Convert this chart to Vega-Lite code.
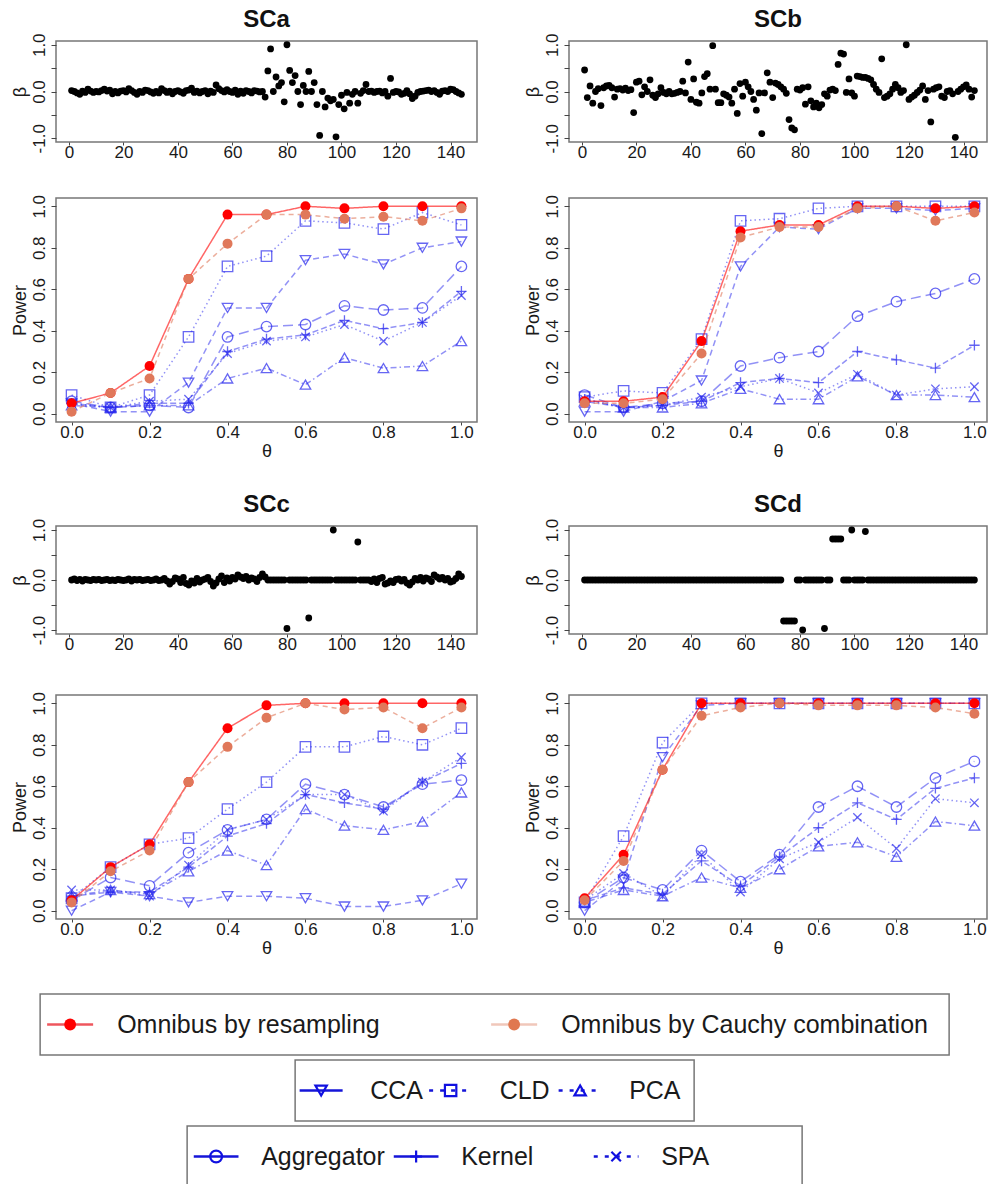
{
"$schema":"https://vega.github.io/schema/vega-lite/v6.json",
"padding":{"left":7,"top":7,"right":0,"bottom":0},
"background":"white",
"config":{
"view":{"stroke":"#777777","strokeWidth":1.5},
"axis":{"domain":false,"grid":false,"tickColor":"#444444","labelFont":"Liberation Sans","titleFont":"Liberation Sans","labelFontSize":17,"titleFontSize":18,"titleFontWeight":"normal","labelColor":"#1a1a1a","titleColor":"#1a1a1a","labelFlush":false,"labelOverlap":false},
"axisX":{"tickSize":3,"labelPadding":-1,"titlePadding":2},
"axisY":{"tickSize":5,"labelPadding":3,"titlePadding":1,"labelAngle":-90},
"title":{"fontSize":24,"fontWeight":"bold","font":"Liberation Sans","anchor":"middle","frame":"group","offset":1,"color":"#111111"},
"text":{"font":"Liberation Sans"}
},
"datasets":{
"betaA":[{"i":1,"beta":0.02},{"i":2,"beta":0},{"i":3,"beta":-0.03},{"i":4,"beta":-0.06},{"i":5,"beta":0.01},{"i":6,"beta":-0.02},{"i":7,"beta":0.05},{"i":8,"beta":0.01},{"i":9,"beta":-0.02},{"i":10,"beta":0},{"i":11,"beta":-0.01},{"i":12,"beta":0.02},{"i":13,"beta":0.05},{"i":14,"beta":0.01},{"i":15,"beta":0.03},{"i":16,"beta":-0.05},{"i":17,"beta":0},{"i":18,"beta":-0.03},{"i":19,"beta":0.01},{"i":20,"beta":0.02},{"i":21,"beta":-0.01},{"i":22,"beta":0.06},{"i":23,"beta":0.02},{"i":24,"beta":-0.02},{"i":25,"beta":-0.06},{"i":26,"beta":0},{"i":27,"beta":-0.02},{"i":28,"beta":0.03},{"i":29,"beta":0.02},{"i":30,"beta":-0.01},{"i":31,"beta":-0.04},{"i":32,"beta":0},{"i":33,"beta":-0.03},{"i":34,"beta":0.06},{"i":35,"beta":0.02},{"i":36,"beta":-0.02},{"i":37,"beta":0.01},{"i":38,"beta":-0.05},{"i":39,"beta":0},{"i":40,"beta":0.02},{"i":41,"beta":-0.01},{"i":42,"beta":-0.04},{"i":43,"beta":0.02},{"i":44,"beta":0.03},{"i":45,"beta":0.07},{"i":46,"beta":-0.02},{"i":47,"beta":0.01},{"i":48,"beta":-0.03},{"i":49,"beta":0},{"i":50,"beta":0.02},{"i":51,"beta":-0.05},{"i":52,"beta":0.01},{"i":53,"beta":-0.02},{"i":54,"beta":0.14},{"i":55,"beta":0.06},{"i":56,"beta":0.02},{"i":57,"beta":-0.01},{"i":58,"beta":0.04},{"i":59,"beta":0},{"i":60,"beta":-0.02},{"i":61,"beta":0.03},{"i":62,"beta":-0.06},{"i":63,"beta":0.01},{"i":64,"beta":-0.04},{"i":65,"beta":0.02},{"i":66,"beta":0},{"i":67,"beta":-0.03},{"i":68,"beta":0.02},{"i":69,"beta":0.01},{"i":70,"beta":-0.01},{"i":71,"beta":0},{"i":72,"beta":-0.12},{"i":73,"beta":0.44},{"i":74,"beta":0.91},{"i":75,"beta":0},{"i":76,"beta":0.31},{"i":77,"beta":0.12},{"i":78,"beta":0.19},{"i":79,"beta":-0.22},{"i":80,"beta":1},{"i":81,"beta":0.45},{"i":82,"beta":0.19},{"i":83,"beta":0.34},{"i":84,"beta":0},{"i":85,"beta":-0.28},{"i":86,"beta":0.13},{"i":87,"beta":0},{"i":88,"beta":0.43},{"i":89,"beta":0},{"i":90,"beta":0.19},{"i":91,"beta":-0.28},{"i":92,"beta":-0.94},{"i":93,"beta":0},{"i":94,"beta":-0.33},{"i":95,"beta":-0.14},{"i":96,"beta":-0.2},{"i":97,"beta":-0.17},{"i":98,"beta":-0.97},{"i":99,"beta":-0.28},{"i":100,"beta":-0.08},{"i":101,"beta":-0.37},{"i":102,"beta":-0.02},{"i":103,"beta":-0.25},{"i":104,"beta":-0.06},{"i":105,"beta":0},{"i":106,"beta":-0.25},{"i":107,"beta":-0.04},{"i":108,"beta":0.02},{"i":109,"beta":0.15},{"i":110,"beta":0},{"i":111,"beta":0.01},{"i":112,"beta":-0.02},{"i":113,"beta":0},{"i":114,"beta":0.01},{"i":115,"beta":-0.03},{"i":116,"beta":0},{"i":117,"beta":-0.1},{"i":118,"beta":0.28},{"i":119,"beta":-0.02},{"i":120,"beta":0},{"i":121,"beta":-0.01},{"i":122,"beta":-0.06},{"i":123,"beta":-0.04},{"i":124,"beta":0.02},{"i":125,"beta":-0.05},{"i":126,"beta":-0.15},{"i":127,"beta":-0.1},{"i":128,"beta":-0.02},{"i":129,"beta":0},{"i":130,"beta":0.01},{"i":131,"beta":0.02},{"i":132,"beta":0.03},{"i":133,"beta":0},{"i":134,"beta":0.02},{"i":135,"beta":-0.02},{"i":136,"beta":-0.06},{"i":137,"beta":0.01},{"i":138,"beta":0.02},{"i":139,"beta":0},{"i":140,"beta":0.05},{"i":141,"beta":0.04},{"i":142,"beta":0},{"i":143,"beta":-0.03},{"i":144,"beta":-0.06}],
"betaB":[{"i":1,"beta":0.46},{"i":2,"beta":-0.13},{"i":3,"beta":0.12},{"i":4,"beta":-0.25},{"i":5,"beta":0},{"i":6,"beta":0.06},{"i":7,"beta":-0.3},{"i":8,"beta":0.08},{"i":9,"beta":0.12},{"i":10,"beta":0.13},{"i":11,"beta":0.08},{"i":12,"beta":-0.12},{"i":13,"beta":0.05},{"i":14,"beta":0.06},{"i":15,"beta":0.03},{"i":16,"beta":0.07},{"i":17,"beta":0.02},{"i":18,"beta":0.04},{"i":19,"beta":-0.45},{"i":20,"beta":0.2},{"i":21,"beta":0.22},{"i":22,"beta":-0.07},{"i":23,"beta":0.1},{"i":24,"beta":0},{"i":25,"beta":0.25},{"i":26,"beta":-0.08},{"i":27,"beta":-0.13},{"i":28,"beta":-0.05},{"i":29,"beta":0.08},{"i":30,"beta":-0.02},{"i":31,"beta":-0.05},{"i":32,"beta":0},{"i":33,"beta":-0.05},{"i":34,"beta":-0.04},{"i":35,"beta":-0.02},{"i":36,"beta":0},{"i":37,"beta":0.22},{"i":38,"beta":-0.03},{"i":39,"beta":0.63},{"i":40,"beta":-0.17},{"i":41,"beta":0.27},{"i":42,"beta":-0.23},{"i":43,"beta":-0.25},{"i":44,"beta":-0.03},{"i":45,"beta":0.32},{"i":46,"beta":0.38},{"i":47,"beta":0.05},{"i":48,"beta":0.98},{"i":49,"beta":0.05},{"i":50,"beta":-0.24},{"i":51,"beta":-0.24},{"i":52,"beta":-0.05},{"i":53,"beta":-0.08},{"i":54,"beta":-0.12},{"i":55,"beta":-0.25},{"i":56,"beta":0.05},{"i":57,"beta":-0.47},{"i":58,"beta":0.17},{"i":59,"beta":-0.1},{"i":60,"beta":0.2},{"i":61,"beta":0.1},{"i":62,"beta":0},{"i":63,"beta":-0.17},{"i":64,"beta":-0.4},{"i":65,"beta":-0.03},{"i":66,"beta":-0.9},{"i":67,"beta":-0.03},{"i":68,"beta":0.4},{"i":69,"beta":0.2},{"i":70,"beta":-0.13},{"i":71,"beta":0.18},{"i":72,"beta":0.15},{"i":73,"beta":0.1},{"i":74,"beta":0.05},{"i":75,"beta":-0.04},{"i":76,"beta":-0.6},{"i":77,"beta":-0.78},{"i":78,"beta":-0.82},{"i":79,"beta":0.05},{"i":80,"beta":0.03},{"i":81,"beta":0.08},{"i":82,"beta":-0.27},{"i":83,"beta":0.1},{"i":84,"beta":-0.2},{"i":85,"beta":-0.33},{"i":86,"beta":-0.25},{"i":87,"beta":-0.35},{"i":88,"beta":-0.28},{"i":89,"beta":-0.05},{"i":90,"beta":-0.1},{"i":91,"beta":0.03},{"i":92,"beta":0.05},{"i":93,"beta":0.02},{"i":94,"beta":0.58},{"i":95,"beta":0.82},{"i":96,"beta":0.8},{"i":97,"beta":-0.02},{"i":98,"beta":0.27},{"i":99,"beta":-0.03},{"i":100,"beta":-0.1},{"i":101,"beta":0.33},{"i":102,"beta":0.32},{"i":103,"beta":0.3},{"i":104,"beta":0.3},{"i":105,"beta":0.28},{"i":106,"beta":0.25},{"i":107,"beta":0.15},{"i":108,"beta":0.05},{"i":109,"beta":-0.02},{"i":110,"beta":0.7},{"i":111,"beta":-0.13},{"i":112,"beta":-0.1},{"i":113,"beta":-0.05},{"i":114,"beta":0.05},{"i":115,"beta":0.15},{"i":116,"beta":0.08},{"i":117,"beta":-0.02},{"i":118,"beta":0.02},{"i":119,"beta":1},{"i":120,"beta":-0.17},{"i":121,"beta":-0.12},{"i":122,"beta":-0.08},{"i":123,"beta":-0.02},{"i":124,"beta":0.03},{"i":125,"beta":0.12},{"i":126,"beta":-0.17},{"i":127,"beta":0.02},{"i":128,"beta":-0.65},{"i":129,"beta":0.05},{"i":130,"beta":0.08},{"i":131,"beta":0.1},{"i":132,"beta":-0.1},{"i":133,"beta":-0.13},{"i":134,"beta":0},{"i":135,"beta":0.02},{"i":136,"beta":-0.05},{"i":137,"beta":-0.98},{"i":138,"beta":0},{"i":139,"beta":0.05},{"i":140,"beta":0.1},{"i":141,"beta":0.14},{"i":142,"beta":0.05},{"i":143,"beta":-0.12},{"i":144,"beta":0.02}],
"betaC":[{"i":1,"beta":0},{"i":2,"beta":0.02},{"i":3,"beta":-0.01},{"i":4,"beta":0.01},{"i":5,"beta":-0.02},{"i":6,"beta":0.01},{"i":7,"beta":0},{"i":8,"beta":-0.01},{"i":9,"beta":0.01},{"i":10,"beta":0},{"i":11,"beta":0.01},{"i":12,"beta":-0.01},{"i":13,"beta":0},{"i":14,"beta":0.01},{"i":15,"beta":-0.01},{"i":16,"beta":0},{"i":17,"beta":-0.01},{"i":18,"beta":0.01},{"i":19,"beta":0},{"i":20,"beta":-0.01},{"i":21,"beta":0},{"i":22,"beta":0.02},{"i":23,"beta":-0.02},{"i":24,"beta":0.01},{"i":25,"beta":0},{"i":26,"beta":0.01},{"i":27,"beta":-0.01},{"i":28,"beta":0},{"i":29,"beta":0.01},{"i":30,"beta":-0.01},{"i":31,"beta":0},{"i":32,"beta":0.02},{"i":33,"beta":-0.01},{"i":34,"beta":0},{"i":35,"beta":0.03},{"i":36,"beta":-0.02},{"i":37,"beta":-0.08},{"i":38,"beta":-0.03},{"i":39,"beta":0.04},{"i":40,"beta":0.02},{"i":41,"beta":-0.05},{"i":42,"beta":0.05},{"i":43,"beta":-0.07},{"i":44,"beta":-0.1},{"i":45,"beta":-0.02},{"i":46,"beta":-0.06},{"i":47,"beta":0.03},{"i":48,"beta":-0.04},{"i":49,"beta":0},{"i":50,"beta":0.02},{"i":51,"beta":0.05},{"i":52,"beta":-0.03},{"i":53,"beta":-0.12},{"i":54,"beta":-0.06},{"i":55,"beta":0.02},{"i":56,"beta":0.08},{"i":57,"beta":-0.05},{"i":58,"beta":0.04},{"i":59,"beta":-0.02},{"i":60,"beta":0.05},{"i":61,"beta":0.02},{"i":62,"beta":0.1},{"i":63,"beta":0.06},{"i":64,"beta":0.03},{"i":65,"beta":0.07},{"i":66,"beta":0},{"i":67,"beta":0.04},{"i":68,"beta":0.02},{"i":69,"beta":-0.03},{"i":70,"beta":0.05},{"i":71,"beta":0.12},{"i":72,"beta":0.06},{"i":73,"beta":0},{"i":74,"beta":0},{"i":75,"beta":0},{"i":76,"beta":0},{"i":77,"beta":0},{"i":78,"beta":0},{"i":79,"beta":0},{"i":80,"beta":-0.97},{"i":81,"beta":0},{"i":82,"beta":0},{"i":83,"beta":0},{"i":84,"beta":0},{"i":85,"beta":0},{"i":86,"beta":0},{"i":87,"beta":0},{"i":88,"beta":-0.76},{"i":89,"beta":0},{"i":90,"beta":0},{"i":91,"beta":0},{"i":92,"beta":0},{"i":93,"beta":0},{"i":94,"beta":0},{"i":95,"beta":0},{"i":96,"beta":0},{"i":97,"beta":1},{"i":98,"beta":0},{"i":99,"beta":0},{"i":100,"beta":0},{"i":101,"beta":0},{"i":102,"beta":0},{"i":103,"beta":0},{"i":104,"beta":0},{"i":105,"beta":0},{"i":106,"beta":0.76},{"i":107,"beta":0},{"i":108,"beta":0},{"i":109,"beta":0},{"i":110,"beta":0},{"i":111,"beta":-0.03},{"i":112,"beta":0.02},{"i":113,"beta":-0.05},{"i":114,"beta":0.03},{"i":115,"beta":0.05},{"i":116,"beta":-0.08},{"i":117,"beta":-0.06},{"i":118,"beta":-0.02},{"i":119,"beta":-0.05},{"i":120,"beta":0.01},{"i":121,"beta":0.02},{"i":122,"beta":-0.02},{"i":123,"beta":0.01},{"i":124,"beta":-0.06},{"i":125,"beta":-0.1},{"i":126,"beta":-0.04},{"i":127,"beta":0.03},{"i":128,"beta":0},{"i":129,"beta":0.05},{"i":130,"beta":-0.02},{"i":131,"beta":0.04},{"i":132,"beta":0.02},{"i":133,"beta":-0.03},{"i":134,"beta":0.1},{"i":135,"beta":0.06},{"i":136,"beta":0.02},{"i":137,"beta":0.05},{"i":138,"beta":0},{"i":139,"beta":0.03},{"i":140,"beta":-0.04},{"i":141,"beta":-0.02},{"i":142,"beta":0.03},{"i":143,"beta":0.12},{"i":144,"beta":0.07}],
"betaD":[{"i":1,"beta":0},{"i":2,"beta":0},{"i":3,"beta":0},{"i":4,"beta":0},{"i":5,"beta":0},{"i":6,"beta":0},{"i":7,"beta":0},{"i":8,"beta":0},{"i":9,"beta":0},{"i":10,"beta":0},{"i":11,"beta":0},{"i":12,"beta":0},{"i":13,"beta":0},{"i":14,"beta":0},{"i":15,"beta":0},{"i":16,"beta":0},{"i":17,"beta":0},{"i":18,"beta":0},{"i":19,"beta":0},{"i":20,"beta":0},{"i":21,"beta":0},{"i":22,"beta":0},{"i":23,"beta":0},{"i":24,"beta":0},{"i":25,"beta":0},{"i":26,"beta":0},{"i":27,"beta":0},{"i":28,"beta":0},{"i":29,"beta":0},{"i":30,"beta":0},{"i":31,"beta":0},{"i":32,"beta":0},{"i":33,"beta":0},{"i":34,"beta":0},{"i":35,"beta":0},{"i":36,"beta":0},{"i":37,"beta":0},{"i":38,"beta":0},{"i":39,"beta":0},{"i":40,"beta":0},{"i":41,"beta":0},{"i":42,"beta":0},{"i":43,"beta":0},{"i":44,"beta":0},{"i":45,"beta":0},{"i":46,"beta":0},{"i":47,"beta":0},{"i":48,"beta":0},{"i":49,"beta":0},{"i":50,"beta":0},{"i":51,"beta":0},{"i":52,"beta":0},{"i":53,"beta":0},{"i":54,"beta":0},{"i":55,"beta":0},{"i":56,"beta":0},{"i":57,"beta":0},{"i":58,"beta":0},{"i":59,"beta":0},{"i":60,"beta":0},{"i":61,"beta":0},{"i":62,"beta":0},{"i":63,"beta":0},{"i":64,"beta":0},{"i":65,"beta":0},{"i":66,"beta":0},{"i":67,"beta":0},{"i":68,"beta":0},{"i":69,"beta":0},{"i":70,"beta":0},{"i":71,"beta":0},{"i":72,"beta":0},{"i":73,"beta":0},{"i":74,"beta":-0.82},{"i":75,"beta":-0.82},{"i":76,"beta":-0.82},{"i":77,"beta":-0.82},{"i":78,"beta":-0.82},{"i":79,"beta":0},{"i":80,"beta":0},{"i":81,"beta":-1},{"i":82,"beta":0},{"i":83,"beta":0},{"i":84,"beta":0},{"i":85,"beta":0},{"i":86,"beta":0},{"i":87,"beta":0},{"i":88,"beta":0},{"i":89,"beta":-0.97},{"i":90,"beta":0},{"i":91,"beta":0},{"i":92,"beta":0.82},{"i":93,"beta":0.82},{"i":94,"beta":0.82},{"i":95,"beta":0.82},{"i":96,"beta":0},{"i":97,"beta":0},{"i":98,"beta":0},{"i":99,"beta":1},{"i":100,"beta":0},{"i":101,"beta":0},{"i":102,"beta":0},{"i":103,"beta":0},{"i":104,"beta":0.97},{"i":105,"beta":0},{"i":106,"beta":0},{"i":107,"beta":0},{"i":108,"beta":0},{"i":109,"beta":0},{"i":110,"beta":0},{"i":111,"beta":0},{"i":112,"beta":0},{"i":113,"beta":0},{"i":114,"beta":0},{"i":115,"beta":0},{"i":116,"beta":0},{"i":117,"beta":0},{"i":118,"beta":0},{"i":119,"beta":0},{"i":120,"beta":0},{"i":121,"beta":0},{"i":122,"beta":0},{"i":123,"beta":0},{"i":124,"beta":0},{"i":125,"beta":0},{"i":126,"beta":0},{"i":127,"beta":0},{"i":128,"beta":0},{"i":129,"beta":0},{"i":130,"beta":0},{"i":131,"beta":0},{"i":132,"beta":0},{"i":133,"beta":0},{"i":134,"beta":0},{"i":135,"beta":0},{"i":136,"beta":0},{"i":137,"beta":0},{"i":138,"beta":0},{"i":139,"beta":0},{"i":140,"beta":0},{"i":141,"beta":0},{"i":142,"beta":0},{"i":143,"beta":0},{"i":144,"beta":0}],
"powerA":[
{"method":"Resampling","theta":0,"power":0.05},{"method":"Resampling","theta":0.1,"power":0.1},{"method":"Resampling","theta":0.2,"power":0.23},{"method":"Resampling","theta":0.3,"power":0.65},{"method":"Resampling","theta":0.4,"power":0.96},{"method":"Resampling","theta":0.5,"power":0.96},{"method":"Resampling","theta":0.6,"power":1},{"method":"Resampling","theta":0.7,"power":0.99},{"method":"Resampling","theta":0.8,"power":1},{"method":"Resampling","theta":0.9,"power":1},{"method":"Resampling","theta":1,"power":1},
{"method":"Cauchy","theta":0,"power":0.01},{"method":"Cauchy","theta":0.1,"power":0.1},{"method":"Cauchy","theta":0.2,"power":0.17},{"method":"Cauchy","theta":0.3,"power":0.65},{"method":"Cauchy","theta":0.4,"power":0.82},{"method":"Cauchy","theta":0.5,"power":0.96},{"method":"Cauchy","theta":0.6,"power":0.96},{"method":"Cauchy","theta":0.7,"power":0.94},{"method":"Cauchy","theta":0.8,"power":0.95},{"method":"Cauchy","theta":0.9,"power":0.93},{"method":"Cauchy","theta":1,"power":0.99},
{"method":"CCA","theta":0,"power":0.05},{"method":"CCA","theta":0.1,"power":0.01},{"method":"CCA","theta":0.2,"power":0.01},{"method":"CCA","theta":0.3,"power":0.15},{"method":"CCA","theta":0.4,"power":0.51},{"method":"CCA","theta":0.5,"power":0.51},{"method":"CCA","theta":0.6,"power":0.74},{"method":"CCA","theta":0.7,"power":0.77},{"method":"CCA","theta":0.8,"power":0.72},{"method":"CCA","theta":0.9,"power":0.8},{"method":"CCA","theta":1,"power":0.83},
{"method":"CLD","theta":0,"power":0.09},{"method":"CLD","theta":0.1,"power":0.03},{"method":"CLD","theta":0.2,"power":0.09},{"method":"CLD","theta":0.3,"power":0.37},{"method":"CLD","theta":0.4,"power":0.71},{"method":"CLD","theta":0.5,"power":0.76},{"method":"CLD","theta":0.6,"power":0.93},{"method":"CLD","theta":0.7,"power":0.92},{"method":"CLD","theta":0.8,"power":0.89},{"method":"CLD","theta":0.9,"power":0.97},{"method":"CLD","theta":1,"power":0.91},
{"method":"PCA","theta":0,"power":0.04},{"method":"PCA","theta":0.1,"power":0.03},{"method":"PCA","theta":0.2,"power":0.04},{"method":"PCA","theta":0.3,"power":0.04},{"method":"PCA","theta":0.4,"power":0.17},{"method":"PCA","theta":0.5,"power":0.22},{"method":"PCA","theta":0.6,"power":0.14},{"method":"PCA","theta":0.7,"power":0.27},{"method":"PCA","theta":0.8,"power":0.22},{"method":"PCA","theta":0.9,"power":0.23},{"method":"PCA","theta":1,"power":0.35},
{"method":"Aggregator","theta":0,"power":0.06},{"method":"Aggregator","theta":0.1,"power":0.03},{"method":"Aggregator","theta":0.2,"power":0.04},{"method":"Aggregator","theta":0.3,"power":0.03},{"method":"Aggregator","theta":0.4,"power":0.37},{"method":"Aggregator","theta":0.5,"power":0.42},{"method":"Aggregator","theta":0.6,"power":0.43},{"method":"Aggregator","theta":0.7,"power":0.52},{"method":"Aggregator","theta":0.8,"power":0.5},{"method":"Aggregator","theta":0.9,"power":0.51},{"method":"Aggregator","theta":1,"power":0.71},
{"method":"Kernel","theta":0,"power":0.05},{"method":"Kernel","theta":0.1,"power":0.03},{"method":"Kernel","theta":0.2,"power":0.05},{"method":"Kernel","theta":0.3,"power":0.05},{"method":"Kernel","theta":0.4,"power":0.3},{"method":"Kernel","theta":0.5,"power":0.36},{"method":"Kernel","theta":0.6,"power":0.38},{"method":"Kernel","theta":0.7,"power":0.45},{"method":"Kernel","theta":0.8,"power":0.41},{"method":"Kernel","theta":0.9,"power":0.44},{"method":"Kernel","theta":1,"power":0.59},
{"method":"SPA","theta":0,"power":0.05},{"method":"SPA","theta":0.1,"power":0.03},{"method":"SPA","theta":0.2,"power":0.06},{"method":"SPA","theta":0.3,"power":0.07},{"method":"SPA","theta":0.4,"power":0.29},{"method":"SPA","theta":0.5,"power":0.35},{"method":"SPA","theta":0.6,"power":0.37},{"method":"SPA","theta":0.7,"power":0.43},{"method":"SPA","theta":0.8,"power":0.35},{"method":"SPA","theta":0.9,"power":0.44},{"method":"SPA","theta":1,"power":0.57}],
"powerB":[
{"method":"Resampling","theta":0,"power":0.06},{"method":"Resampling","theta":0.1,"power":0.06},{"method":"Resampling","theta":0.2,"power":0.08},{"method":"Resampling","theta":0.3,"power":0.35},{"method":"Resampling","theta":0.4,"power":0.88},{"method":"Resampling","theta":0.5,"power":0.91},{"method":"Resampling","theta":0.6,"power":0.91},{"method":"Resampling","theta":0.7,"power":1},{"method":"Resampling","theta":0.8,"power":1},{"method":"Resampling","theta":0.9,"power":0.99},{"method":"Resampling","theta":1,"power":1},
{"method":"Cauchy","theta":0,"power":0.05},{"method":"Cauchy","theta":0.1,"power":0.05},{"method":"Cauchy","theta":0.2,"power":0.07},{"method":"Cauchy","theta":0.3,"power":0.29},{"method":"Cauchy","theta":0.4,"power":0.85},{"method":"Cauchy","theta":0.5,"power":0.9},{"method":"Cauchy","theta":0.6,"power":0.9},{"method":"Cauchy","theta":0.7,"power":0.99},{"method":"Cauchy","theta":0.8,"power":1},{"method":"Cauchy","theta":0.9,"power":0.93},{"method":"Cauchy","theta":1,"power":0.97},
{"method":"CCA","theta":0,"power":0.01},{"method":"CCA","theta":0.1,"power":0.01},{"method":"CCA","theta":0.2,"power":0.06},{"method":"CCA","theta":0.3,"power":0.16},{"method":"CCA","theta":0.4,"power":0.71},{"method":"CCA","theta":0.5,"power":0.9},{"method":"CCA","theta":0.6,"power":0.89},{"method":"CCA","theta":0.7,"power":0.99},{"method":"CCA","theta":0.8,"power":0.99},{"method":"CCA","theta":0.9,"power":0.98},{"method":"CCA","theta":1,"power":0.99},
{"method":"CLD","theta":0,"power":0.08},{"method":"CLD","theta":0.1,"power":0.11},{"method":"CLD","theta":0.2,"power":0.1},{"method":"CLD","theta":0.3,"power":0.36},{"method":"CLD","theta":0.4,"power":0.93},{"method":"CLD","theta":0.5,"power":0.94},{"method":"CLD","theta":0.6,"power":0.99},{"method":"CLD","theta":0.7,"power":1},{"method":"CLD","theta":0.8,"power":1},{"method":"CLD","theta":0.9,"power":1},{"method":"CLD","theta":1,"power":1},
{"method":"PCA","theta":0,"power":0.06},{"method":"PCA","theta":0.1,"power":0.03},{"method":"PCA","theta":0.2,"power":0.03},{"method":"PCA","theta":0.3,"power":0.05},{"method":"PCA","theta":0.4,"power":0.12},{"method":"PCA","theta":0.5,"power":0.07},{"method":"PCA","theta":0.6,"power":0.07},{"method":"PCA","theta":0.7,"power":0.18},{"method":"PCA","theta":0.8,"power":0.09},{"method":"PCA","theta":0.9,"power":0.09},{"method":"PCA","theta":1,"power":0.08},
{"method":"Aggregator","theta":0,"power":0.09},{"method":"Aggregator","theta":0.1,"power":0.03},{"method":"Aggregator","theta":0.2,"power":0.05},{"method":"Aggregator","theta":0.3,"power":0.06},{"method":"Aggregator","theta":0.4,"power":0.23},{"method":"Aggregator","theta":0.5,"power":0.27},{"method":"Aggregator","theta":0.6,"power":0.3},{"method":"Aggregator","theta":0.7,"power":0.47},{"method":"Aggregator","theta":0.8,"power":0.54},{"method":"Aggregator","theta":0.9,"power":0.58},{"method":"Aggregator","theta":1,"power":0.65},
{"method":"Kernel","theta":0,"power":0.07},{"method":"Kernel","theta":0.1,"power":0.03},{"method":"Kernel","theta":0.2,"power":0.04},{"method":"Kernel","theta":0.3,"power":0.06},{"method":"Kernel","theta":0.4,"power":0.15},{"method":"Kernel","theta":0.5,"power":0.17},{"method":"Kernel","theta":0.6,"power":0.15},{"method":"Kernel","theta":0.7,"power":0.3},{"method":"Kernel","theta":0.8,"power":0.26},{"method":"Kernel","theta":0.9,"power":0.22},{"method":"Kernel","theta":1,"power":0.33},
{"method":"SPA","theta":0,"power":0.07},{"method":"SPA","theta":0.1,"power":0.03},{"method":"SPA","theta":0.2,"power":0.04},{"method":"SPA","theta":0.3,"power":0.08},{"method":"SPA","theta":0.4,"power":0.13},{"method":"SPA","theta":0.5,"power":0.17},{"method":"SPA","theta":0.6,"power":0.1},{"method":"SPA","theta":0.7,"power":0.19},{"method":"SPA","theta":0.8,"power":0.09},{"method":"SPA","theta":0.9,"power":0.12},{"method":"SPA","theta":1,"power":0.13}],
"powerC":[
{"method":"Resampling","theta":0,"power":0.05},{"method":"Resampling","theta":0.1,"power":0.21},{"method":"Resampling","theta":0.2,"power":0.32},{"method":"Resampling","theta":0.3,"power":0.62},{"method":"Resampling","theta":0.4,"power":0.88},{"method":"Resampling","theta":0.5,"power":0.99},{"method":"Resampling","theta":0.6,"power":1},{"method":"Resampling","theta":0.7,"power":1},{"method":"Resampling","theta":0.8,"power":1},{"method":"Resampling","theta":0.9,"power":1},{"method":"Resampling","theta":1,"power":1},
{"method":"Cauchy","theta":0,"power":0.04},{"method":"Cauchy","theta":0.1,"power":0.19},{"method":"Cauchy","theta":0.2,"power":0.29},{"method":"Cauchy","theta":0.3,"power":0.62},{"method":"Cauchy","theta":0.4,"power":0.79},{"method":"Cauchy","theta":0.5,"power":0.93},{"method":"Cauchy","theta":0.6,"power":1},{"method":"Cauchy","theta":0.7,"power":0.97},{"method":"Cauchy","theta":0.8,"power":0.98},{"method":"Cauchy","theta":0.9,"power":0.88},{"method":"Cauchy","theta":1,"power":0.98},
{"method":"CCA","theta":0,"power":0},{"method":"CCA","theta":0.1,"power":0.09},{"method":"CCA","theta":0.2,"power":0.07},{"method":"CCA","theta":0.3,"power":0.04},{"method":"CCA","theta":0.4,"power":0.07},{"method":"CCA","theta":0.5,"power":0.07},{"method":"CCA","theta":0.6,"power":0.06},{"method":"CCA","theta":0.7,"power":0.02},{"method":"CCA","theta":0.8,"power":0.02},{"method":"CCA","theta":0.9,"power":0.05},{"method":"CCA","theta":1,"power":0.13},
{"method":"CLD","theta":0,"power":0.06},{"method":"CLD","theta":0.1,"power":0.21},{"method":"CLD","theta":0.2,"power":0.32},{"method":"CLD","theta":0.3,"power":0.35},{"method":"CLD","theta":0.4,"power":0.49},{"method":"CLD","theta":0.5,"power":0.62},{"method":"CLD","theta":0.6,"power":0.79},{"method":"CLD","theta":0.7,"power":0.79},{"method":"CLD","theta":0.8,"power":0.84},{"method":"CLD","theta":0.9,"power":0.8},{"method":"CLD","theta":1,"power":0.88},
{"method":"PCA","theta":0,"power":0.07},{"method":"PCA","theta":0.1,"power":0.1},{"method":"PCA","theta":0.2,"power":0.08},{"method":"PCA","theta":0.3,"power":0.19},{"method":"PCA","theta":0.4,"power":0.29},{"method":"PCA","theta":0.5,"power":0.22},{"method":"PCA","theta":0.6,"power":0.49},{"method":"PCA","theta":0.7,"power":0.41},{"method":"PCA","theta":0.8,"power":0.39},{"method":"PCA","theta":0.9,"power":0.43},{"method":"PCA","theta":1,"power":0.57},
{"method":"Aggregator","theta":0,"power":0.05},{"method":"Aggregator","theta":0.1,"power":0.16},{"method":"Aggregator","theta":0.2,"power":0.12},{"method":"Aggregator","theta":0.3,"power":0.28},{"method":"Aggregator","theta":0.4,"power":0.39},{"method":"Aggregator","theta":0.5,"power":0.44},{"method":"Aggregator","theta":0.6,"power":0.61},{"method":"Aggregator","theta":0.7,"power":0.56},{"method":"Aggregator","theta":0.8,"power":0.5},{"method":"Aggregator","theta":0.9,"power":0.61},{"method":"Aggregator","theta":1,"power":0.63},
{"method":"Kernel","theta":0,"power":0.07},{"method":"Kernel","theta":0.1,"power":0.09},{"method":"Kernel","theta":0.2,"power":0.09},{"method":"Kernel","theta":0.3,"power":0.21},{"method":"Kernel","theta":0.4,"power":0.36},{"method":"Kernel","theta":0.5,"power":0.42},{"method":"Kernel","theta":0.6,"power":0.56},{"method":"Kernel","theta":0.7,"power":0.52},{"method":"Kernel","theta":0.8,"power":0.49},{"method":"Kernel","theta":0.9,"power":0.62},{"method":"Kernel","theta":1,"power":0.71},
{"method":"SPA","theta":0,"power":0.1},{"method":"SPA","theta":0.1,"power":0.1},{"method":"SPA","theta":0.2,"power":0.07},{"method":"SPA","theta":0.3,"power":0.22},{"method":"SPA","theta":0.4,"power":0.39},{"method":"SPA","theta":0.5,"power":0.44},{"method":"SPA","theta":0.6,"power":0.56},{"method":"SPA","theta":0.7,"power":0.56},{"method":"SPA","theta":0.8,"power":0.48},{"method":"SPA","theta":0.9,"power":0.62},{"method":"SPA","theta":1,"power":0.74}],
"powerD":[
{"method":"Resampling","theta":0,"power":0.06},{"method":"Resampling","theta":0.1,"power":0.27},{"method":"Resampling","theta":0.2,"power":0.68},{"method":"Resampling","theta":0.3,"power":1},{"method":"Resampling","theta":0.4,"power":1},{"method":"Resampling","theta":0.5,"power":1},{"method":"Resampling","theta":0.6,"power":1},{"method":"Resampling","theta":0.7,"power":1},{"method":"Resampling","theta":0.8,"power":1},{"method":"Resampling","theta":0.9,"power":1},{"method":"Resampling","theta":1,"power":1},
{"method":"Cauchy","theta":0,"power":0.05},{"method":"Cauchy","theta":0.1,"power":0.24},{"method":"Cauchy","theta":0.2,"power":0.68},{"method":"Cauchy","theta":0.3,"power":0.94},{"method":"Cauchy","theta":0.4,"power":0.98},{"method":"Cauchy","theta":0.5,"power":1},{"method":"Cauchy","theta":0.6,"power":0.99},{"method":"Cauchy","theta":0.7,"power":0.99},{"method":"Cauchy","theta":0.8,"power":0.99},{"method":"Cauchy","theta":0.9,"power":0.98},{"method":"Cauchy","theta":1,"power":0.95},
{"method":"CCA","theta":0,"power":0},{"method":"CCA","theta":0.1,"power":0.15},{"method":"CCA","theta":0.2,"power":0.74},{"method":"CCA","theta":0.3,"power":0.99},{"method":"CCA","theta":0.4,"power":1},{"method":"CCA","theta":0.5,"power":1},{"method":"CCA","theta":0.6,"power":1},{"method":"CCA","theta":0.7,"power":1},{"method":"CCA","theta":0.8,"power":1},{"method":"CCA","theta":0.9,"power":1},{"method":"CCA","theta":1,"power":1},
{"method":"CLD","theta":0,"power":0.04},{"method":"CLD","theta":0.1,"power":0.36},{"method":"CLD","theta":0.2,"power":0.81},{"method":"CLD","theta":0.3,"power":1},{"method":"CLD","theta":0.4,"power":1},{"method":"CLD","theta":0.5,"power":1},{"method":"CLD","theta":0.6,"power":1},{"method":"CLD","theta":0.7,"power":1},{"method":"CLD","theta":0.8,"power":1},{"method":"CLD","theta":0.9,"power":1},{"method":"CLD","theta":1,"power":1},
{"method":"PCA","theta":0,"power":0.04},{"method":"PCA","theta":0.1,"power":0.1},{"method":"PCA","theta":0.2,"power":0.07},{"method":"PCA","theta":0.3,"power":0.16},{"method":"PCA","theta":0.4,"power":0.11},{"method":"PCA","theta":0.5,"power":0.2},{"method":"PCA","theta":0.6,"power":0.31},{"method":"PCA","theta":0.7,"power":0.33},{"method":"PCA","theta":0.8,"power":0.26},{"method":"PCA","theta":0.9,"power":0.43},{"method":"PCA","theta":1,"power":0.41},
{"method":"Aggregator","theta":0,"power":0.04},{"method":"Aggregator","theta":0.1,"power":0.16},{"method":"Aggregator","theta":0.2,"power":0.1},{"method":"Aggregator","theta":0.3,"power":0.29},{"method":"Aggregator","theta":0.4,"power":0.14},{"method":"Aggregator","theta":0.5,"power":0.27},{"method":"Aggregator","theta":0.6,"power":0.5},{"method":"Aggregator","theta":0.7,"power":0.6},{"method":"Aggregator","theta":0.8,"power":0.5},{"method":"Aggregator","theta":0.9,"power":0.64},{"method":"Aggregator","theta":1,"power":0.72},
{"method":"Kernel","theta":0,"power":0.05},{"method":"Kernel","theta":0.1,"power":0.11},{"method":"Kernel","theta":0.2,"power":0.08},{"method":"Kernel","theta":0.3,"power":0.24},{"method":"Kernel","theta":0.4,"power":0.12},{"method":"Kernel","theta":0.5,"power":0.26},{"method":"Kernel","theta":0.6,"power":0.4},{"method":"Kernel","theta":0.7,"power":0.52},{"method":"Kernel","theta":0.8,"power":0.44},{"method":"Kernel","theta":0.9,"power":0.59},{"method":"Kernel","theta":1,"power":0.64},
{"method":"SPA","theta":0,"power":0.05},{"method":"SPA","theta":0.1,"power":0.18},{"method":"SPA","theta":0.2,"power":0.07},{"method":"SPA","theta":0.3,"power":0.27},{"method":"SPA","theta":0.4,"power":0.09},{"method":"SPA","theta":0.5,"power":0.25},{"method":"SPA","theta":0.6,"power":0.33},{"method":"SPA","theta":0.7,"power":0.45},{"method":"SPA","theta":0.8,"power":0.3},{"method":"SPA","theta":0.9,"power":0.54},{"method":"SPA","theta":1,"power":0.52}],
"legend1":[{"method":"Resampling","label":"Omnibus by resampling"},{"method":"Cauchy","label":"Omnibus by Cauchy combination"}],
"legend2":[{"method":"CCA","label":"CCA"},{"method":"CLD","label":"CLD"},{"method":"PCA","label":"PCA"}],
"legend3":[{"method":"Aggregator","label":"Aggregator"},{"method":"Kernel","label":"Kernel"},{"method":"SPA","label":"SPA"}]
},
"columns":1,
"align":"none",
"spacing":30,
"concat":[
{"hconcat":[
 {"width":1,"height":1,"data":{"values":[{"blank":""}]},"mark":{"type":"text","text":""},"view":{"stroke":"transparent"}},
 {"vconcat":[
  {"vconcat":[
   {"hconcat":[
    {"width":421,"height":101,"title":"SCa","data":{"name":"betaA"},"mark":{"type":"point","filled":true,"color":"black","size":46,"opacity":1},
     "encoding":{"x":{"field":"i","type":"quantitative","scale":{"domain":[-4.72,149.72],"nice":false,"zero":false},"axis":{"values":[0,20,40,60,80,100,120,140],"title":null}},
     "y":{"field":"beta","type":"quantitative","scale":{"domain":[-1.08,1.08],"nice":false,"zero":false},"axis":{"values":[-1,-0.5,0,0.5,1],"labelExpr":"datum.value == 1 ? '1.0' : datum.value == 0 ? '0.0' : datum.value == -1 ? '-1.0' : ''","title":"β"}}}},
    {"width":418,"height":101,"title":"SCb","data":{"name":"betaB"},"mark":{"type":"point","filled":true,"color":"black","size":46,"opacity":1},
     "encoding":{"x":{"field":"i","type":"quantitative","scale":{"domain":[-4.72,148.62],"nice":false,"zero":false},"axis":{"values":[0,20,40,60,80,100,120,140],"title":null}},
     "y":{"field":"beta","type":"quantitative","scale":{"domain":[-1.08,1.08],"nice":false,"zero":false},"axis":{"values":[-1,-0.5,0,0.5,1],"labelExpr":"datum.value == 1 ? '1.0' : datum.value == 0 ? '0.0' : datum.value == -1 ? '-1.0' : ''","title":"β"}}}}
   ],"spacing":45},
   {"hconcat":[
    {"width":421,"height":224,"data":{"name":"powerA"},
     "encoding":{"x":{"field":"theta","type":"quantitative","scale":{"domain":[-0.04,1.04],"nice":false,"zero":false},"axis":{"values":[0,0.2,0.4,0.6,0.8,1],"format":".1f","title":"θ"}},
      "y":{"field":"power","type":"quantitative","scale":{"domain":[-0.04,1.04],"nice":false,"zero":false},"axis":{"values":[0,0.2,0.4,0.6,0.8,1],"format":".1f","title":"Power"}},
      "color":{"field":"method","type":"nominal","scale":{"domain":["Resampling","Cauchy","CCA","CLD","PCA","Aggregator","Kernel","SPA"],"range":["#FF0000","#E0785A","#2626EE","#2626EE","#2626EE","#2626EE","#2626EE","#2626EE"]},"legend":null}},
     "layer":[
      {"transform":[{"filter":{"field":"method","oneOf":["CCA","CLD","PCA","Aggregator","Kernel","SPA"]}}],"mark":{"type":"line","strokeWidth":1.5,"opacity":0.5},"encoding":{"strokeDash":{"field":"method","type":"nominal","scale":{"domain":["Resampling","Cauchy","CCA","CLD","PCA","Aggregator","Kernel","SPA"],"range":[[1,0],[5,4],[6,4],[1.5,3],[1.5,3,6,3],[10,5],[6,3],[1.5,3]]},"legend":null}}},
      {"transform":[{"filter":{"field":"method","oneOf":["CCA","CLD","PCA","Aggregator","Kernel","SPA"]}}],"mark":{"type":"point","filled":false,"size":110,"strokeWidth":1.3,"opacity":0.7},"encoding":{"shape":{"field":"method","type":"nominal","scale":{"domain":["Resampling","Cauchy","CCA","CLD","PCA","Aggregator","Kernel","SPA"],"range":["circle","circle","triangle-down","square","triangle-up","circle","M-1,0L1,0M0,-1L0,1","M-0.8,-0.8L0.8,0.8M-0.8,0.8L0.8,-0.8"]},"legend":null}}},
      {"transform":[{"filter":{"field":"method","oneOf":["Resampling","Cauchy"]}}],"mark":{"type":"line","strokeWidth":1.5,"opacity":0.6},"encoding":{"strokeDash":{"field":"method","type":"nominal","scale":{"domain":["Resampling","Cauchy","CCA","CLD","PCA","Aggregator","Kernel","SPA"],"range":[[1,0],[5,4],[6,4],[1.5,3],[1.5,3,6,3],[10,5],[6,3],[1.5,3]]},"legend":null}}},
      {"transform":[{"filter":{"field":"method","oneOf":["Resampling","Cauchy"]}}],"mark":{"type":"point","filled":true,"size":100,"opacity":1}}
     ]},
    {"width":418,"height":224,"data":{"name":"powerB"},
     "encoding":{"x":{"field":"theta","type":"quantitative","scale":{"domain":[-0.04,1.0323],"nice":false,"zero":false},"axis":{"values":[0,0.2,0.4,0.6,0.8,1],"format":".1f","title":"θ"}},
      "y":{"field":"power","type":"quantitative","scale":{"domain":[-0.04,1.04],"nice":false,"zero":false},"axis":{"values":[0,0.2,0.4,0.6,0.8,1],"format":".1f","title":"Power"}},
      "color":{"field":"method","type":"nominal","scale":{"domain":["Resampling","Cauchy","CCA","CLD","PCA","Aggregator","Kernel","SPA"],"range":["#FF0000","#E0785A","#2626EE","#2626EE","#2626EE","#2626EE","#2626EE","#2626EE"]},"legend":null}},
     "layer":[
      {"transform":[{"filter":{"field":"method","oneOf":["CCA","CLD","PCA","Aggregator","Kernel","SPA"]}}],"mark":{"type":"line","strokeWidth":1.5,"opacity":0.5},"encoding":{"strokeDash":{"field":"method","type":"nominal","scale":{"domain":["Resampling","Cauchy","CCA","CLD","PCA","Aggregator","Kernel","SPA"],"range":[[1,0],[5,4],[6,4],[1.5,3],[1.5,3,6,3],[10,5],[6,3],[1.5,3]]},"legend":null}}},
      {"transform":[{"filter":{"field":"method","oneOf":["CCA","CLD","PCA","Aggregator","Kernel","SPA"]}}],"mark":{"type":"point","filled":false,"size":110,"strokeWidth":1.3,"opacity":0.7},"encoding":{"shape":{"field":"method","type":"nominal","scale":{"domain":["Resampling","Cauchy","CCA","CLD","PCA","Aggregator","Kernel","SPA"],"range":["circle","circle","triangle-down","square","triangle-up","circle","M-1,0L1,0M0,-1L0,1","M-0.8,-0.8L0.8,0.8M-0.8,0.8L0.8,-0.8"]},"legend":null}}},
      {"transform":[{"filter":{"field":"method","oneOf":["Resampling","Cauchy"]}}],"mark":{"type":"line","strokeWidth":1.5,"opacity":0.6},"encoding":{"strokeDash":{"field":"method","type":"nominal","scale":{"domain":["Resampling","Cauchy","CCA","CLD","PCA","Aggregator","Kernel","SPA"],"range":[[1,0],[5,4],[6,4],[1.5,3],[1.5,3,6,3],[10,5],[6,3],[1.5,3]]},"legend":null}}},
      {"transform":[{"filter":{"field":"method","oneOf":["Resampling","Cauchy"]}}],"mark":{"type":"point","filled":true,"size":100,"opacity":1}}
     ]}
   ],"spacing":45}
  ],"spacing":32},
  {"vconcat":[
   {"hconcat":[
    {"width":421,"height":108,"title":"SCc","data":{"name":"betaC"},"mark":{"type":"point","filled":true,"color":"black","size":46,"opacity":1},
     "encoding":{"x":{"field":"i","type":"quantitative","scale":{"domain":[-4.72,149.72],"nice":false,"zero":false},"axis":{"values":[0,20,40,60,80,100,120,140],"title":null}},
     "y":{"field":"beta","type":"quantitative","scale":{"domain":[-1.08,1.08],"nice":false,"zero":false},"axis":{"values":[-1,-0.5,0,0.5,1],"labelExpr":"datum.value == 1 ? '1.0' : datum.value == 0 ? '0.0' : datum.value == -1 ? '-1.0' : ''","title":"β"}}}},
    {"width":418,"height":108,"title":"SCd","data":{"name":"betaD"},"mark":{"type":"point","filled":true,"color":"black","size":46,"opacity":1},
     "encoding":{"x":{"field":"i","type":"quantitative","scale":{"domain":[-4.72,148.62],"nice":false,"zero":false},"axis":{"values":[0,20,40,60,80,100,120,140],"title":null}},
     "y":{"field":"beta","type":"quantitative","scale":{"domain":[-1.08,1.08],"nice":false,"zero":false},"axis":{"values":[-1,-0.5,0,0.5,1],"labelExpr":"datum.value == 1 ? '1.0' : datum.value == 0 ? '0.0' : datum.value == -1 ? '-1.0' : ''","title":"β"}}}}
   ],"spacing":45},
   {"hconcat":[
    {"width":421,"height":224,"data":{"name":"powerC"},
     "encoding":{"x":{"field":"theta","type":"quantitative","scale":{"domain":[-0.04,1.04],"nice":false,"zero":false},"axis":{"values":[0,0.2,0.4,0.6,0.8,1],"format":".1f","title":"θ"}},
      "y":{"field":"power","type":"quantitative","scale":{"domain":[-0.04,1.04],"nice":false,"zero":false},"axis":{"values":[0,0.2,0.4,0.6,0.8,1],"format":".1f","title":"Power"}},
      "color":{"field":"method","type":"nominal","scale":{"domain":["Resampling","Cauchy","CCA","CLD","PCA","Aggregator","Kernel","SPA"],"range":["#FF0000","#E0785A","#2626EE","#2626EE","#2626EE","#2626EE","#2626EE","#2626EE"]},"legend":null}},
     "layer":[
      {"transform":[{"filter":{"field":"method","oneOf":["CCA","CLD","PCA","Aggregator","Kernel","SPA"]}}],"mark":{"type":"line","strokeWidth":1.5,"opacity":0.5},"encoding":{"strokeDash":{"field":"method","type":"nominal","scale":{"domain":["Resampling","Cauchy","CCA","CLD","PCA","Aggregator","Kernel","SPA"],"range":[[1,0],[5,4],[6,4],[1.5,3],[1.5,3,6,3],[10,5],[6,3],[1.5,3]]},"legend":null}}},
      {"transform":[{"filter":{"field":"method","oneOf":["CCA","CLD","PCA","Aggregator","Kernel","SPA"]}}],"mark":{"type":"point","filled":false,"size":110,"strokeWidth":1.3,"opacity":0.7},"encoding":{"shape":{"field":"method","type":"nominal","scale":{"domain":["Resampling","Cauchy","CCA","CLD","PCA","Aggregator","Kernel","SPA"],"range":["circle","circle","triangle-down","square","triangle-up","circle","M-1,0L1,0M0,-1L0,1","M-0.8,-0.8L0.8,0.8M-0.8,0.8L0.8,-0.8"]},"legend":null}}},
      {"transform":[{"filter":{"field":"method","oneOf":["Resampling","Cauchy"]}}],"mark":{"type":"line","strokeWidth":1.5,"opacity":0.6},"encoding":{"strokeDash":{"field":"method","type":"nominal","scale":{"domain":["Resampling","Cauchy","CCA","CLD","PCA","Aggregator","Kernel","SPA"],"range":[[1,0],[5,4],[6,4],[1.5,3],[1.5,3,6,3],[10,5],[6,3],[1.5,3]]},"legend":null}}},
      {"transform":[{"filter":{"field":"method","oneOf":["Resampling","Cauchy"]}}],"mark":{"type":"point","filled":true,"size":100,"opacity":1}}
     ]},
    {"width":418,"height":224,"data":{"name":"powerD"},
     "encoding":{"x":{"field":"theta","type":"quantitative","scale":{"domain":[-0.04,1.0323],"nice":false,"zero":false},"axis":{"values":[0,0.2,0.4,0.6,0.8,1],"format":".1f","title":"θ"}},
      "y":{"field":"power","type":"quantitative","scale":{"domain":[-0.04,1.04],"nice":false,"zero":false},"axis":{"values":[0,0.2,0.4,0.6,0.8,1],"format":".1f","title":"Power"}},
      "color":{"field":"method","type":"nominal","scale":{"domain":["Resampling","Cauchy","CCA","CLD","PCA","Aggregator","Kernel","SPA"],"range":["#FF0000","#E0785A","#2626EE","#2626EE","#2626EE","#2626EE","#2626EE","#2626EE"]},"legend":null}},
     "layer":[
      {"transform":[{"filter":{"field":"method","oneOf":["CCA","CLD","PCA","Aggregator","Kernel","SPA"]}}],"mark":{"type":"line","strokeWidth":1.5,"opacity":0.5},"encoding":{"strokeDash":{"field":"method","type":"nominal","scale":{"domain":["Resampling","Cauchy","CCA","CLD","PCA","Aggregator","Kernel","SPA"],"range":[[1,0],[5,4],[6,4],[1.5,3],[1.5,3,6,3],[10,5],[6,3],[1.5,3]]},"legend":null}}},
      {"transform":[{"filter":{"field":"method","oneOf":["CCA","CLD","PCA","Aggregator","Kernel","SPA"]}}],"mark":{"type":"point","filled":false,"size":110,"strokeWidth":1.3,"opacity":0.7},"encoding":{"shape":{"field":"method","type":"nominal","scale":{"domain":["Resampling","Cauchy","CCA","CLD","PCA","Aggregator","Kernel","SPA"],"range":["circle","circle","triangle-down","square","triangle-up","circle","M-1,0L1,0M0,-1L0,1","M-0.8,-0.8L0.8,0.8M-0.8,0.8L0.8,-0.8"]},"legend":null}}},
      {"transform":[{"filter":{"field":"method","oneOf":["Resampling","Cauchy"]}}],"mark":{"type":"line","strokeWidth":1.5,"opacity":0.6},"encoding":{"strokeDash":{"field":"method","type":"nominal","scale":{"domain":["Resampling","Cauchy","CCA","CLD","PCA","Aggregator","Kernel","SPA"],"range":[[1,0],[5,4],[6,4],[1.5,3],[1.5,3,6,3],[10,5],[6,3],[1.5,3]]},"legend":null}}},
      {"transform":[{"filter":{"field":"method","oneOf":["Resampling","Cauchy"]}}],"mark":{"type":"point","filled":true,"size":100,"opacity":1}}
     ]}
   ],"spacing":45}
  ],"spacing":37}
 ],"spacing":31}
],"spacing":0},
{"hconcat":[
 {"width":1,"height":1,"data":{"values":[{"blank":""}]},"mark":{"type":"text","text":""},"view":{"stroke":"transparent"}},
 {"vconcat":[
  {"width":909,"height":61,"data":{"name":"legend1"},
   "encoding":{"x":{"field":"method","type":"nominal","scale":{"type":"point","domain":["Resampling","Cauchy"],"range":[30,474],"padding":0},"axis":null}},
   "layer":[
    {"mark":{"type":"point","shape":"M-1,0L1,0","size":2116,"filled":false,"strokeWidth":2.5},"encoding":{"stroke":{"field":"method","type":"nominal","scale":{"domain":["Resampling","Cauchy"],"range":["#E8101A","#EBB09E"]},"legend":null}}},
    {"mark":{"type":"point","filled":true,"size":140,"opacity":1},"encoding":{"fill":{"field":"method","type":"nominal","scale":{"domain":["Resampling","Cauchy"],"range":["#FF0000","#E07850"]},"legend":null}}},
    {"mark":{"type":"text","align":"left","baseline":"middle","dx":47,"fontSize":25,"color":"#1a1a1a"},"encoding":{"text":{"field":"label"}}}
   ]},
  {"width":399,"height":61,"data":{"name":"legend2"},
   "encoding":{"x":{"field":"method","type":"nominal","scale":{"type":"point","domain":["CCA","CLD","PCA"],"range":[26,285],"padding":0},"axis":null}},
   "layer":[
    {"transform":[{"filter":{"field":"method","equal":"CCA"}}],"mark":{"type":"point","shape":"M-1,0L1,0","size":1850,"filled":false,"strokeWidth":2.5,"stroke":"#1515D8","opacity":1}},
    {"transform":[{"filter":{"field":"method","oneOf":["CLD","PCA"]}}],"mark":{"type":"point","shape":"M-1,0L1,0","size":1850,"filled":false,"strokeWidth":2.5,"stroke":"#1515D8","opacity":1,"strokeDash":[4,7]}},
    {"mark":{"type":"point","filled":false,"size":130,"strokeWidth":2.2,"opacity":1,"stroke":"#1010E0"},"encoding":{"shape":{"field":"method","type":"nominal","scale":{"domain":["Resampling","Cauchy","CCA","CLD","PCA","Aggregator","Kernel","SPA"],"range":["circle","circle","triangle-down","square","triangle-up","circle","M-1,0L1,0M0,-1L0,1","M-0.8,-0.8L0.8,0.8M-0.8,0.8L0.8,-0.8"]},"legend":null}}},
    {"mark":{"type":"text","align":"left","baseline":"middle","dx":49,"fontSize":25,"color":"#1a1a1a"},"encoding":{"text":{"field":"label"}}}
   ]},
  {"width":615,"height":61,"data":{"name":"legend3"},
   "encoding":{"x":{"field":"method","type":"nominal","scale":{"type":"point","domain":["Aggregator","Kernel","SPA"],"range":[29,429],"padding":0},"axis":null}},
   "layer":[
    {"transform":[{"filter":{"field":"method","oneOf":["Aggregator","Kernel"]}}],"mark":{"type":"point","shape":"M-1,0L1,0","size":2000,"filled":false,"strokeWidth":2.5,"stroke":"#1515D8","opacity":1}},
    {"transform":[{"filter":{"field":"method","equal":"SPA"}}],"mark":{"type":"point","shape":"M-1,0L1,0","size":2000,"filled":false,"strokeWidth":2.5,"stroke":"#1515D8","opacity":1,"strokeDash":[4,7]}},
    {"mark":{"type":"point","filled":false,"size":140,"strokeWidth":2.2,"opacity":1,"stroke":"#1010E0"},"encoding":{"shape":{"field":"method","type":"nominal","scale":{"domain":["Resampling","Cauchy","CCA","CLD","PCA","Aggregator","Kernel","SPA"],"range":["circle","circle","triangle-down","square","triangle-up","circle","M-1,0L1,0M0,-1L0,1","M-0.8,-0.8L0.8,0.8M-0.8,0.8L0.8,-0.8"]},"legend":null}}},
    {"mark":{"type":"text","align":"left","baseline":"middle","dx":45,"fontSize":25,"color":"#1a1a1a"},"encoding":{"text":{"field":"label"}}}
   ]}
 ],"spacing":3,"center":true}
],"spacing":29}
]
}
